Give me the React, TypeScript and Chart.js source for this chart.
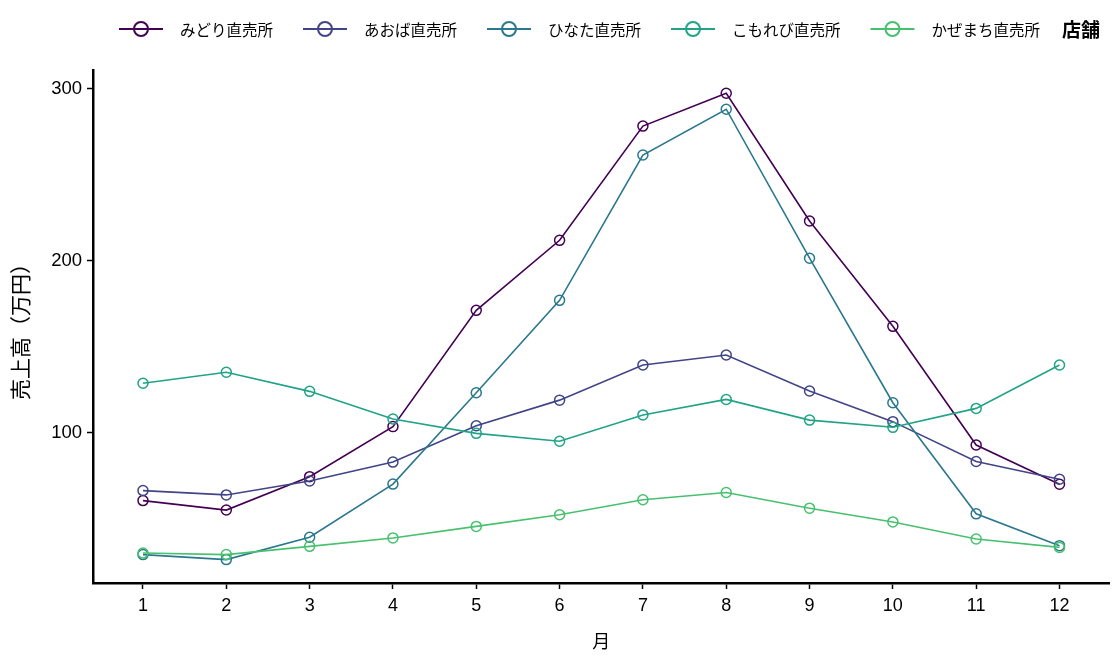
import { useEffect, useRef } from "react";
import { Chart, registerables } from "chart.js";

Chart.register(...registerables);

const months = [1, 2, 3, 4, 5, 6, 7, 8, 9, 10, 11, 12];
const storeNames = ["みどり直売所", "あおば直売所", "ひなた直売所", "こもれび直売所", "かぜまち直売所"];
const midori = [60.7, 55.2, 74.6, 103.7, 171.3, 212, 278.4, 297.5, 223.2, 162, 93, 70.2];
const aoba = [66.5, 64, 72.1, 83.1, 104.2, 119.1, 139.5, 145.3, 124.4, 106.6, 83.4, 73.1];
const hinata = [29.3, 26.4, 39.4, 70.3, 123.4, 177.1, 261.6, 288.2, 201.6, 117.6, 53, 34.5];
const komorebi = [128.9, 135.3, 124.2, 108.1, 99.8, 95.2, 110.5, 119.5, 107.5, 103.3, 114.3, 139.5];
const kazemachi = [30.2, 29.3, 34.1, 39, 45.7, 52.5, 61.2, 65.4, 56.3, 48.3, 38.4, 33.5];
const yTicks = [100, 200, 300];
const legendTitle = "店舗";

const seriesValues = [midori, aoba, hinata, komorebi, kazemachi];
const palette = ["#440154", "#414487", "#2A788E", "#20A386", "#48C16E"];

const NUM_FONT = '"Liberation Sans", Arial, sans-serif';
const JP_FONT = '"Noto Sans CJK JP", "Noto Sans", sans-serif';

// legend drawn in one row above the plot, title to the right of the items
const topLegend = {
  id: "topLegend",
  afterDraw(chart: any) {
    const ctx = chart.ctx as CanvasRenderingContext2D;
    const y = 29;
    let x = 119;
    ctx.save();
    ctx.textBaseline = "middle";
    chart.data.datasets.forEach((ds: any) => {
      ctx.strokeStyle = ds.borderColor;
      ctx.lineWidth = 2;
      ctx.beginPath();
      ctx.moveTo(x, y);
      ctx.lineTo(x + 44, y);
      ctx.stroke();
      ctx.beginPath();
      ctx.arc(x + 22, y, 7, 0, Math.PI * 2);
      ctx.stroke();
      ctx.font = `15.5px ${JP_FONT}`;
      ctx.fillStyle = "#000";
      ctx.textAlign = "left";
      const tx = x + 61;
      ctx.fillText(ds.label, tx, y + 1);
      x = tx + ctx.measureText(ds.label).width + 30;
    });
    ctx.font = `bold 19px ${JP_FONT}`;
    ctx.fillStyle = "#000";
    ctx.fillText(legendTitle, x - 8, y + 1);
    ctx.restore();
  },
};

export default function App() {
  const canvasRef = useRef<HTMLCanvasElement>(null);
  const chartRef = useRef<Chart | null>(null);

  useEffect(() => {
    if (!canvasRef.current) return;
    if (chartRef.current) chartRef.current.destroy();
    const ctx = canvasRef.current.getContext("2d");
    if (!ctx) return;

    const datasets = storeNames.map((name, i) => ({
      label: name,
      data: months.map((m, j) => ({ x: m, y: seriesValues[i][j] })),
      borderColor: palette[i],
      backgroundColor: "transparent",
      borderWidth: 1.6,
      pointRadius: 5,
      pointBorderWidth: 1.5,
      pointBackgroundColor: "transparent",
      pointBorderColor: palette[i],
      tension: 0,
      order: storeNames.length - i,
    }));

    chartRef.current = new Chart(ctx, {
      type: "line",
      data: { datasets },
      plugins: [topLegend],
      options: {
        responsive: false,
        animation: false,
        layout: { padding: { top: 70, right: 6, left: 0, bottom: 0 } },
        plugins: {
          legend: { display: false },
          tooltip: { enabled: false },
        },
        scales: {
          x: {
            type: "linear",
            min: 0.4,
            max: 12.6,
            afterBuildTicks: (scale: any) => {
              scale.ticks = months.map((m) => ({ value: m }));
            },
            afterFit: (scale: any) => {
              scale.height = 75;
            },
            grid: {
              drawOnChartArea: false,
              drawTicks: true,
              tickLength: 6,
              tickColor: "#000",
              tickWidth: 1.5,
            },
            border: { display: true, color: "#000", width: 2.5 },
            ticks: {
              color: "#000",
              font: { family: NUM_FONT, size: 18 },
              padding: 6,
              maxRotation: 0,
              autoSkip: false,
            },
            title: {
              display: true,
              text: "月",
              color: "#000",
              font: { family: JP_FONT, size: 18 },
              padding: { top: 0, bottom: 6 },
            },
          },
          y: {
            type: "linear",
            min: 12.8,
            max: 311,
            afterBuildTicks: (scale: any) => {
              scale.ticks = yTicks.map((v) => ({ value: v }));
            },
            afterFit: (scale: any) => {
              scale.width = 93;
            },
            grid: {
              drawOnChartArea: false,
              drawTicks: true,
              tickLength: 6,
              tickColor: "#000",
              tickWidth: 1.5,
            },
            border: { display: true, color: "#000", width: 2.5 },
            ticks: {
              color: "#000",
              font: { family: NUM_FONT, size: 18.5 },
              padding: 5,
            },
            title: {
              display: true,
              text: "売上高（万円）",
              color: "#000",
              font: { family: JP_FONT, size: 21 },
              padding: { top: 7, bottom: 0 },
            },
          },
        },
      },
    });

    return () => {
      if (chartRef.current) {
        chartRef.current.destroy();
        chartRef.current = null;
      }
    };
  }, []);

  return (
    <div style={{ position: "absolute", left: 0, top: 0, width: 1116, height: 658, background: "#fff" }}>
      <canvas ref={canvasRef} width={1116} height={658} style={{ width: 1116, height: 658 }}></canvas>
    </div>
  );
}
